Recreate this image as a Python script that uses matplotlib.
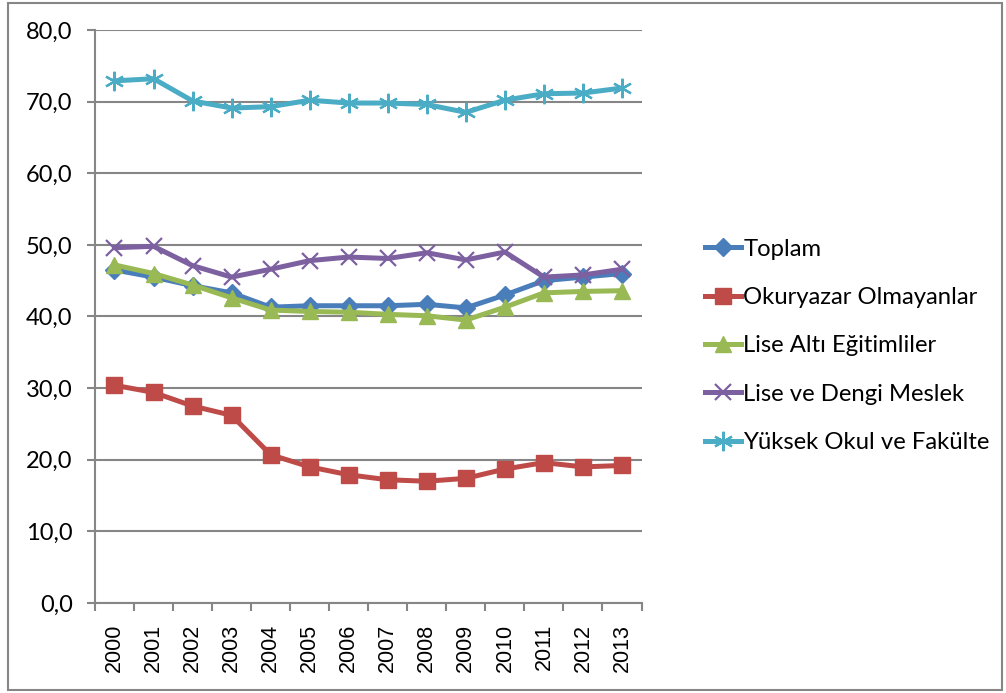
import numpy as np
import matplotlib
matplotlib.use("Agg")
import matplotlib.pyplot as plt
from matplotlib.ticker import FuncFormatter, FixedLocator
from matplotlib.patches import Rectangle

plt.rcParams['font.family'] = ['Lato', 'DejaVu Sans']

years = ['2000', '2001', '2002', '2003', '2004', '2005', '2006',
         '2007', '2008', '2009', '2010', '2011', '2012', '2013']

toplam = [46.5, 45.5, 44.3, 43.3, 41.3, 41.5, 41.5, 41.5, 41.7, 41.2, 43.0, 45.0, 45.5, 46.0]
okuryazar_olmayan = [30.4, 29.4, 27.5, 26.2, 20.7, 19.0, 17.9, 17.2, 17.0, 17.4, 18.7, 19.6, 19.0, 19.2]
lise_alti = [47.2, 46.0, 44.4, 42.6, 40.9, 40.7, 40.6, 40.3, 40.1, 39.5, 41.3, 43.3, 43.5, 43.6]
lise_dengi = [49.6, 49.8, 47.1, 45.5, 46.6, 47.8, 48.3, 48.1, 48.9, 47.9, 49.0, 45.5, 45.8, 46.6]
yuksek_okul = [72.9, 73.2, 70.1, 69.1, 69.3, 70.2, 69.8, 69.8, 69.6, 68.5, 70.2, 71.1, 71.2, 71.9]

series = [
    ('Toplam', toplam, '#4A7EBB', 'D', 9),
    ('Okuryazar Olmayanlar', okuryazar_olmayan, '#BE4B48', 's', 11),
    ('Lise Altı Eğitimliler', lise_alti, '#98B954', '^', 11),
    ('Lise ve Dengi Meslek', lise_dengi, '#7D60A0', 'x', 11),
    ('Yüksek Okul ve Fakülte', yuksek_okul, '#4BACC6', (6, 2, 0), 14),
]

fig = plt.figure(figsize=(10.06, 6.93), dpi=100)
ax = fig.add_axes([0.0944, 0.1299, 0.5433, 0.8268])

x = np.arange(len(years))
for label, vals, col, mk, ms in series:
    kw = dict(markeredgecolor=col, markerfacecolor=col)
    if mk == 'x' or isinstance(mk, tuple):
        kw['markeredgewidth'] = 1.6
    ax.plot(x, vals, color=col, linewidth=3.6, marker=mk, markersize=ms,
            label=label, solid_joinstyle='round', **kw)

grid_col = '#868686'
ax.set_ylim(0, 80)
ax.set_yticks(np.arange(0, 81, 10))
ax.yaxis.set_major_formatter(FuncFormatter(lambda v, p: f'{v:.1f}'.replace('.', ',')))
ax.yaxis.grid(True, color=grid_col, linewidth=1.5)
ax.set_axisbelow(True)

ax.set_xlim(-0.5, len(years) - 0.5)
ax.set_xticks(x)
ax.set_xticklabels(years, rotation=90, family=['Liberation Sans', 'DejaVu Sans'])
ax.xaxis.set_minor_locator(FixedLocator(np.arange(-0.5, len(years), 1.0)))
ax.tick_params(axis='x', which='major', length=0, pad=15, labelsize=15.5)
ax.tick_params(axis='x', which='minor', length=6, width=1.5, color=grid_col)
ax.tick_params(axis='y', which='major', length=6, width=1.5, color=grid_col,
               labelsize=17, pad=10)

for s in ['top', 'right']:
    ax.spines[s].set_visible(False)
for s in ['left', 'bottom']:
    ax.spines[s].set_color(grid_col)
    ax.spines[s].set_linewidth(1.5)

leg = fig.legend(loc='upper left', bbox_to_anchor=(0.7008, 0.6555), frameon=False,
                 fontsize=17.2, handlelength=1.5, handletextpad=0.1,
                 labelspacing=1.145, borderaxespad=0, borderpad=0)

fig.patches.append(Rectangle((0.008, 0.004), 0.988, 0.992, transform=fig.transFigure,
                             fill=False, edgecolor=grid_col, linewidth=1.5))

fig.savefig('out.png', dpi=100)
